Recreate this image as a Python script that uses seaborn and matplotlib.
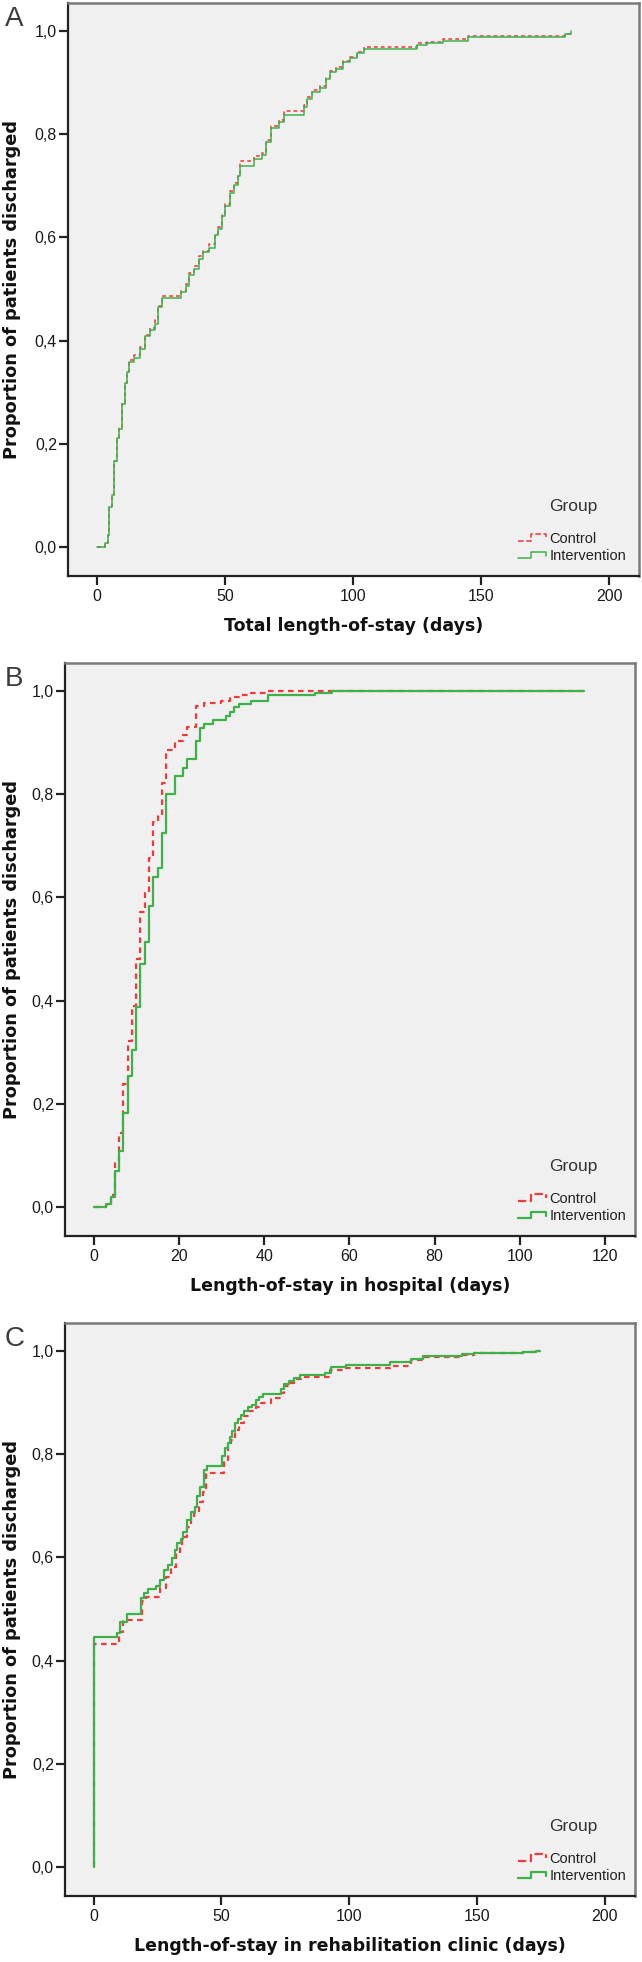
import matplotlib
matplotlib.use("Agg")
import pandas as pd
import matplotlib.pyplot as plt
import seaborn as sns
from matplotlib.lines import Line2D
from matplotlib.legend_handler import HandlerBase
from matplotlib.ticker import FuncFormatter

groups = ["Control", "Intervention"]
colors = {"Control": "#ee3a3a", "Intervention": "#3fb14a"}

# A - total length-of-stay (cumulative proportion discharged)
total_days = [0, 3.2, 4.3, 4.8, 5.9, 6.9, 7.8, 8.8, 9.9, 10.9, 11.8, 12.8, 14.4, 16.8, 18.7,
              20.8, 22.8, 24, 25.6, 33, 35, 36, 38, 40, 41.5, 44, 46, 47.5, 49, 50, 52, 53.5,
              55, 56, 61.5, 64.5, 66, 68, 71, 73, 81, 82, 84, 87, 89.5, 91, 93.5, 96, 99,
              101.5, 104.5, 125, 129, 135, 145, 183, 185.3]
total_intervention = [0, 0.008, 0.023, 0.078, 0.10, 0.167, 0.212, 0.229, 0.278, 0.318, 0.339,
                      0.359, 0.367, 0.384, 0.408, 0.42, 0.433, 0.465, 0.482, 0.494, 0.506, 0.527,
                      0.539, 0.559, 0.571, 0.58, 0.604, 0.616, 0.641, 0.661, 0.686, 0.702, 0.718,
                      0.739, 0.751, 0.759, 0.784, 0.812, 0.824, 0.837, 0.853, 0.869, 0.882, 0.89,
                      0.906, 0.92, 0.927, 0.939, 0.947, 0.957, 0.965, 0.973, 0.976, 0.981, 0.988,
                      0.994, 1.0]
total_control = [0, 0.008, 0.023, 0.078, 0.10, 0.167, 0.212, 0.232, 0.28, 0.318, 0.339,
                 0.362, 0.372, 0.388, 0.411, 0.424, 0.44, 0.468, 0.487, 0.497, 0.509, 0.53,
                 0.545, 0.563, 0.574, 0.588, 0.607, 0.62, 0.644, 0.664, 0.69, 0.706, 0.722,
                 0.747, 0.757, 0.763, 0.788, 0.816, 0.828, 0.845, 0.857, 0.872, 0.886, 0.893,
                 0.909, 0.922, 0.93, 0.942, 0.95, 0.96, 0.968, 0.976, 0.979, 0.984, 0.99,
                 0.994, 1.0]

# B - length-of-stay in hospital
hosp_days_control = [0, 3, 4, 5, 6, 7, 8, 9, 10, 11, 12, 13, 14, 15, 16, 17, 19, 21, 22, 24,
                     26, 30, 32, 34, 37, 41, 115]
hosp_control = [0, 0.005, 0.023, 0.09, 0.144, 0.238, 0.322, 0.389, 0.481, 0.571, 0.608, 0.677,
                0.746, 0.76, 0.822, 0.885, 0.902, 0.915, 0.93, 0.971, 0.977, 0.981, 0.988,
                0.992, 0.996, 1.0, 1.0]
hosp_days_intervention = [0, 3, 4, 5, 6, 7, 8, 9, 10, 11, 12, 13, 14, 15, 16, 17, 19, 21, 22,
                          24, 25, 26, 28, 31, 32, 33, 34, 37, 41, 52, 56, 115]
hosp_intervention = [0, 0.006, 0.019, 0.069, 0.108, 0.183, 0.253, 0.305, 0.388, 0.471, 0.514,
                     0.583, 0.639, 0.657, 0.725, 0.801, 0.835, 0.851, 0.869, 0.903, 0.928, 0.936,
                     0.943, 0.951, 0.959, 0.969, 0.974, 0.98, 0.992, 0.996, 1.0, 1.0]

# C - length-of-stay in rehabilitation clinic
rehab_days_control = [0, 0, 10, 11.5, 19, 20.5, 26, 28.2, 30.1, 32.1, 33.8, 34.7, 36.4, 38,
                      39.3, 41.3, 42.6, 43.9, 51.1, 52.4, 53.9, 55.3, 57, 58.7, 60.9, 63.5,
                      65.5, 69.4, 73.3, 74.6, 76.6, 78.5, 81.1, 92.3, 98.2, 115.8, 124, 129,
                      144, 149, 168, 173, 174.5]
rehab_control = [0, 0.433, 0.455, 0.478, 0.515, 0.524, 0.54, 0.562, 0.582, 0.608, 0.621, 0.64,
                 0.659, 0.679, 0.686, 0.708, 0.727, 0.764, 0.789, 0.815, 0.828, 0.847, 0.86,
                 0.873, 0.883, 0.891, 0.899, 0.909, 0.918, 0.931, 0.937, 0.945, 0.949, 0.963,
                 0.967, 0.971, 0.982, 0.988, 0.992, 0.996, 0.998, 1.0, 1.0]
rehab_days_intervention = [0, 0, 9.2, 10.5, 13.1, 18.4, 19.7, 21.2, 24.3, 26, 27.5, 29.1, 30.8,
                           31.7, 32.8, 34.1, 35.1, 36.4, 38.2, 39.6, 40.6, 41.7, 43.2, 44.5,
                           50.4, 51.3, 52.4, 53.4, 54.3, 55.3, 56.3, 57.6, 58.7, 60.2, 61.8,
                           63.5, 64.8, 66.4, 73.3, 74.3, 76.6, 78.5, 80.9, 90.7, 92.9, 98.8,
                           115.8, 124, 129, 144, 149, 168, 173, 174.5]
rehab_intervention = [0, 0.446, 0.454, 0.475, 0.491, 0.521, 0.53, 0.538, 0.545, 0.556, 0.575,
                      0.585, 0.598, 0.614, 0.627, 0.635, 0.65, 0.672, 0.688, 0.698, 0.718, 0.737,
                      0.77, 0.777, 0.797, 0.811, 0.821, 0.834, 0.844, 0.86, 0.868, 0.876, 0.883,
                      0.891, 0.896, 0.904, 0.91, 0.917, 0.926, 0.936, 0.941, 0.947, 0.954, 0.958,
                      0.969, 0.973, 0.978, 0.985, 0.99, 0.993, 0.996, 0.998, 1.0, 1.0]

panel_letters = ["A", "B", "C"]
xlabels = ["Total length-of-stay (days)", "Length-of-stay in hospital (days)",
           "Length-of-stay in rehabilitation clinic (days)"]
xticks = [[0, 50, 100, 150, 200], [0, 20, 40, 60, 80, 100, 120], [0, 50, 100, 150, 200]]
yticks = [0.0, 0.2, 0.4, 0.6, 0.8, 1.0]


def make_frame(days_c, prop_c, days_i, prop_i):
    return pd.concat([
        pd.DataFrame({"days": days_c, "prop": prop_c, "group": "Control"}),
        pd.DataFrame({"days": days_i, "prop": prop_i, "group": "Intervention"}),
    ], ignore_index=True)


class StepHandler(HandlerBase):
    def create_artists(self, legend, orig_handle, xdescent, ydescent, width, height,
                       fontsize, trans):
        x0 = -xdescent
        lo = -ydescent + height * 0.2
        hi = -ydescent + height * 0.85
        xs = [x0, x0 + width * 0.45, x0 + width * 0.45, x0 + width * 0.95, x0 + width * 0.95]
        ys = [lo, lo, hi, hi, lo + (hi - lo) * 0.35]
        line = Line2D(xs, ys, color=orig_handle.get_color(),
                      linestyle=orig_handle.get_linestyle(),
                      linewidth=orig_handle.get_linewidth())
        line.set_transform(trans)
        return [line]


frames = [
    make_frame(total_days, total_control, total_days, total_intervention),
    make_frame(hosp_days_control, hosp_control, hosp_days_intervention, hosp_intervention),
    make_frame(rehab_days_control, rehab_control, rehab_days_intervention, rehab_intervention),
]

sns.set_style("white")
plt.rcParams["font.family"] = ["Liberation Sans", "DejaVu Sans"]

W, H = 642, 1962
fig = plt.figure(figsize=(W / 100, H / 100), dpi=100)

# axes boxes in pixels: left, top, right, bottom
boxes = [(68, 3, 639, 576), (65, 663, 635, 1236), (65, 1323, 635, 1896)]
xlims = [(-11.2, 211.7), (-6.7, 127.0), (-11.2, 211.8)]
widths = [1.1, 1.6, 1.6]

for k, df in enumerate(frames):
    l, t, r, b = boxes[k]
    ax = fig.add_axes([l / W, 1 - b / H, (r - l) / W, (b - t) / H])
    ax.set_facecolor("#f0f0f0")
    sns.lineplot(data=df, x="days", y="prop", hue="group", style="group",
                 hue_order=groups, style_order=groups, palette=colors,
                 dashes={"Control": (2.5, 2), "Intervention": ""},
                 estimator=None, drawstyle="steps-post", linewidth=widths[k],
                 legend=False, ax=ax)
    ax.set_xlim(*xlims[k])
    ax.set_ylim(-0.056, 1.054)
    ax.set_xticks(xticks[k])
    ax.set_yticks(yticks)
    ax.yaxis.set_major_formatter(FuncFormatter(lambda v, p: f"{v:.1f}".replace(".", ",")))
    ax.tick_params(direction="out", length=6.5, width=1.6, color="#222222",
                   labelsize=11.5, labelcolor="#1a1a1a", bottom=True, left=True,
                   top=False, right=False)
    ax.tick_params(axis="x", pad=3)
    ax.tick_params(axis="y", pad=1.5)
    for s in ["top", "right"]:
        ax.spines[s].set_color("#7a7a7a")
        ax.spines[s].set_linewidth(1.8)
    for s in ["left", "bottom"]:
        ax.spines[s].set_color("#222222")
        ax.spines[s].set_linewidth(1.6)

    ax.set_xlabel(xlabels[k], fontsize=12.5, fontweight="bold", family="DejaVu Sans",
                  color="#111111")
    ax.set_ylabel("Proportion of patients discharged", fontsize=12.8, fontweight="bold",
                  family="DejaVu Sans", color="#111111")
    ax.xaxis.set_label_coords(0.5, -0.072)
    ax.yaxis.set_label_coords((21 - l) / (r - l), 0.5)

    handles = [Line2D([], [], color=colors["Control"], linestyle=(0, (2.5, 2)),
                      linewidth=widths[k]),
               Line2D([], [], color=colors["Intervention"], linewidth=widths[k])]
    leg = ax.legend(handles, groups, loc="lower left",
                    bbox_to_anchor=((518 - l) / (r - l), 0.022),
                    frameon=False, fontsize=10.5, handlelength=2.0, handletextpad=0.15,
                    labelspacing=0.25, borderpad=0, borderaxespad=0,
                    handler_map={Line2D: StepHandler()})
    for txt in leg.get_texts():
        txt.set_color("#222222")
    ax.text((549 - l) / (r - l), 0.122, "Group", transform=ax.transAxes,
            fontsize=12.5, color="#333333", va="center", ha="left")

    fig.text(5 / W, 1 - (t + 16) / H, panel_letters[k], fontsize=20, color="#3c3c3c",
             va="center", ha="left")

fig.savefig("out.png", dpi=100)
